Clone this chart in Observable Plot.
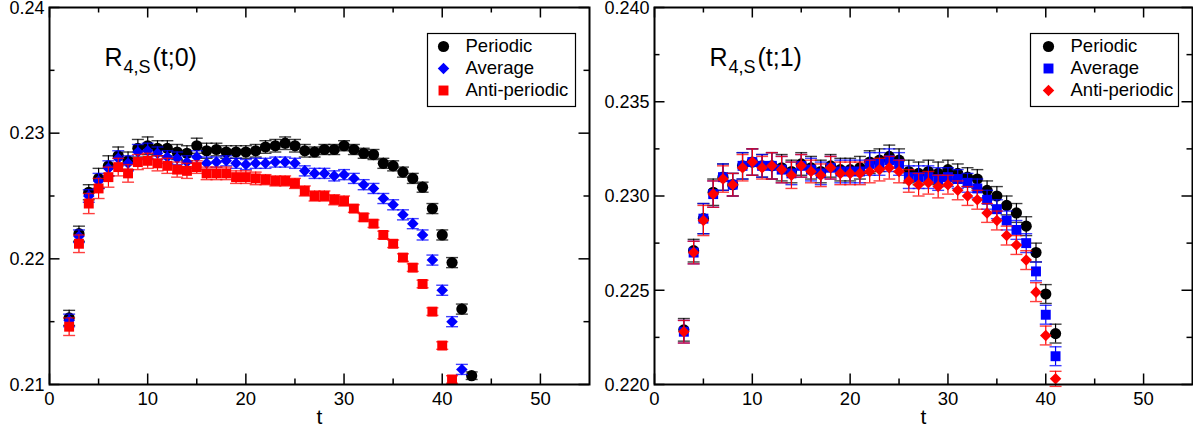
<!DOCTYPE html>
<html><head><meta charset="utf-8">
<script src="https://cdn.jsdelivr.net/npm/d3@7"></script>
<script src="https://cdn.jsdelivr.net/npm/@observablehq/plot@0.6"></script>
<style>
body{margin:0;background:#fff;}
#wrap{position:relative;width:1193px;height:429px;overflow:hidden;background:#fff;}
#wrap svg{position:absolute;top:0;}
</style></head><body><div id="wrap"></div>
<script>
// ---------- Left panel: R_{4,S}(t;0) ----------
const tLeftPer = [2,3,4,5,6,7,8,9,10,11,12,13,14,15,16,17,18,19,20,21,22,23,24,25,26,27,28,29,30,31,32,33,34,35,36,37,38,39,40,41,42,43];
const leftPer = [0.2153,0.2220,0.2253,0.2264,0.2274,0.2282,0.2278,0.2288,0.2290,0.2288,0.2288,0.2285,0.2284,0.2290,0.2286,0.2287,0.2285,0.2285,0.2285,0.2286,0.2289,0.2290,0.2292,0.2290,0.2286,0.2285,0.2287,0.2287,0.2290,0.2287,0.2284,0.2283,0.2276,0.2274,0.2269,0.2264,0.2257,0.2240,0.2219,0.2197,0.2160,0.2107];
const leftPerErr = [0.0006,0.0006,0.0006,0.0008,0.0008,0.0007,0.0007,0.0007,0.0007,0.0006,0.0006,0.0006,0.0006,0.0006,0.0006,0.0005,0.0005,0.0005,0.0005,0.0005,0.0005,0.0005,0.0005,0.0005,0.0005,0.0004,0.0004,0.0004,0.0004,0.0004,0.0004,0.0004,0.0004,0.0004,0.0004,0.0004,0.0004,0.0004,0.0004,0.0004,0.0004,0.0003];

const tLeftAvg = [2,3,4,5,6,7,8,9,10,11,12,13,14,15,16,17,18,19,20,21,22,23,24,25,26,27,28,29,30,31,32,33,34,35,36,37,38,39,40,41,42];
const leftAvg = [0.2151,0.2218,0.2250,0.2262,0.2272,0.2280,0.2276,0.2285,0.2286,0.2284,0.2281,0.2280,0.2277,0.2281,0.2276,0.2277,0.2278,0.2276,0.2275,0.2276,0.2276,0.2277,0.2277,0.2276,0.2270,0.2268,0.2268,0.2266,0.2267,0.2264,0.2259,0.2256,0.2248,0.2243,0.2235,0.2228,0.2219,0.2199,0.2175,0.2150,0.2112];
const leftAvgErr = [0.0005,0.0005,0.0005,0.0006,0.0006,0.0006,0.0006,0.0006,0.0006,0.0005,0.0005,0.0005,0.0005,0.0005,0.0005,0.0004,0.0004,0.0004,0.0004,0.0004,0.0004,0.0004,0.0004,0.0004,0.0004,0.0004,0.0004,0.0004,0.0004,0.0004,0.0004,0.0004,0.0004,0.0004,0.0004,0.0004,0.0004,0.0004,0.0004,0.0004,0.0004];

const tLeftAnti = [2,3,4,5,6,7,8,9,10,11,12,13,14,15,16,17,18,19,20,21,22,23,24,25,26,27,28,29,30,31,32,33,34,35,36,37,38,39,40,41];
const leftAnti = [0.2146,0.2212,0.2244,0.2256,0.2265,0.2273,0.2268,0.2277,0.2278,0.2276,0.2274,0.2271,0.2270,0.2273,0.2268,0.2268,0.2268,0.2265,0.2265,0.2264,0.2263,0.2262,0.2262,0.2260,0.2254,0.2250,0.2250,0.2247,0.2246,0.2240,0.2233,0.2228,0.2219,0.2212,0.2201,0.2193,0.2180,0.2158,0.2131,0.2104];
const leftAntiErr = [0.0007,0.0007,0.0008,0.0008,0.0008,0.0007,0.0007,0.0006,0.0006,0.0006,0.0006,0.0006,0.0006,0.0005,0.0005,0.0005,0.0005,0.0005,0.0005,0.0005,0.0004,0.0004,0.0004,0.0004,0.0004,0.0004,0.0004,0.0004,0.0004,0.0003,0.0003,0.0003,0.0003,0.0003,0.0003,0.0003,0.0003,0.0003,0.0003,0.0003];

// ---------- Right panel: R_{4,S}(t;1) ----------
const tRight = [3,4,5,6,7,8,9,10,11,12,13,14,15,16,17,18,19,20,21,22,23,24,25,26,27,28,29,30,31,32,33,34,35,36,37,38,39,40,41];
const rightPer = [0.2229,0.2271,0.2288,0.2302,0.2310,0.2306,0.2316,0.2318,0.2316,0.2316,0.2315,0.2313,0.2317,0.2315,0.2313,0.2316,0.2314,0.2314,0.2315,0.2318,0.2319,0.2321,0.2319,0.2313,0.2312,0.2313,0.2312,0.2314,0.2312,0.2310,0.2309,0.2303,0.2300,0.2295,0.2291,0.2284,0.2270,0.2248,0.2227];
const rightPerErr = [0.0006,0.0006,0.0008,0.0007,0.0007,0.0006,0.0007,0.0007,0.0006,0.0007,0.0007,0.0006,0.0006,0.0006,0.0006,0.0006,0.0006,0.0006,0.0006,0.0006,0.0006,0.0006,0.0006,0.0006,0.0006,0.0006,0.0006,0.0005,0.0005,0.0005,0.0005,0.0005,0.0005,0.0005,0.0005,0.0005,0.0005,0.0005,0.0005];
const rightAvg = [0.2228,0.2270,0.2288,0.2301,0.2310,0.2306,0.2316,0.2318,0.2316,0.2316,0.2314,0.2312,0.2316,0.2314,0.2312,0.2315,0.2313,0.2313,0.2313,0.2317,0.2317,0.2319,0.2317,0.2310,0.2310,0.2310,0.2309,0.2310,0.2309,0.2307,0.2304,0.2298,0.2293,0.2287,0.2282,0.2275,0.2260,0.2237,0.2215];
const rightAvgErr = [0.0006,0.0006,0.0008,0.0007,0.0007,0.0006,0.0007,0.0007,0.0006,0.0007,0.0007,0.0006,0.0006,0.0006,0.0006,0.0006,0.0006,0.0006,0.0006,0.0006,0.0006,0.0006,0.0006,0.0006,0.0006,0.0006,0.0006,0.0005,0.0005,0.0005,0.0005,0.0005,0.0005,0.0005,0.0005,0.0005,0.0005,0.0005,0.0005];
const rightAnti = [0.2228,0.2270,0.2287,0.2301,0.2309,0.2306,0.2315,0.2318,0.2315,0.2316,0.2314,0.2311,0.2316,0.2313,0.2311,0.2315,0.2312,0.2312,0.2312,0.2313,0.2314,0.2315,0.2313,0.2308,0.2306,0.2307,0.2305,0.2306,0.2303,0.2300,0.2298,0.2291,0.2287,0.2279,0.2274,0.2266,0.2249,0.2226,0.2203];
const rightAntiErr = [0.0006,0.0006,0.0008,0.0007,0.0007,0.0006,0.0007,0.0007,0.0006,0.0007,0.0007,0.0007,0.0006,0.0006,0.0006,0.0006,0.0006,0.0006,0.0006,0.0006,0.0006,0.0006,0.0006,0.0006,0.0006,0.0006,0.0006,0.0005,0.0005,0.0005,0.0005,0.0005,0.0005,0.0005,0.0005,0.0005,0.0005,0.0005,0.0004];

// ---------- Axes / labels ----------
const xMajor = [0,10,20,30,40,50];
const xMinor = [5,15,25,35,45];
const xDomain = [0,55];
const leftYDomain = [0.21,0.24];
const leftYMajor = [0.21,0.22,0.23,0.24];
const leftYMinor = [0.215,0.225,0.235];
const rightYDomain = [0.220,0.240];
const rightYMajor = [0.220,0.225,0.230,0.235,0.240];
const rightYMinor = [0.2225,0.2275,0.2325,0.2375];
const legendLabels = ["Periodic","Average","Anti-periodic"];
const seriesColors = ["#000000","#0000ff","#ff0000"];
const leftSymbols = ["circle","diamond2","square"];
const rightSymbols = ["circle","square","diamond2"];
const xLabel = "t";

const rows = (t, v, e) => t.map((ti, i) => ({t: ti, v: v[i], e: e[i]}));
const capSymbol = {draw(ctx) { ctx.moveTo(-6, 0); ctx.lineTo(6, 0); }};
const symR = {circle: 5.6, square: 5.6, diamond2: 5.2};
const FONT = "'Liberation Sans', Arial, Helvetica, sans-serif";

function seriesMarks(data, color, symbol) {
  return [
    Plot.ruleX(data, {x: "t", y1: d => d.v - d.e, y2: d => d.v + d.e, stroke: color, strokeWidth: 1.2}),
    Plot.dot(data, {x: "t", y: d => d.v + d.e, symbol: capSymbol, stroke: color, strokeWidth: 1.4, strokeOpacity: 0.75}),
    Plot.dot(data, {x: "t", y: d => d.v - d.e, symbol: capSymbol, stroke: color, strokeWidth: 1.4, strokeOpacity: 0.75}),
    Plot.dot(data, {x: "t", y: "v", symbol: symbol, r: symR[symbol], fill: color, stroke: "none"})
  ];
}

function panel({width, marginLeft, marginRight, yDomain, yMajor, yMinor, yFormat, series, symbols, sub, arg}) {
  const marginTop = 7, marginBottom = 45, height = 429;
  const H = height - marginTop - marginBottom;
  const W = width - marginLeft - marginRight;
  const marks = [];
  // ticks (inward, mirrored)
  marks.push(Plot.ruleX(xMajor, {x: d => d, insetTop: H - 10.5, stroke: "black", strokeWidth: 1.5}));
  marks.push(Plot.ruleX(xMajor, {x: d => d, insetBottom: H - 10.5, stroke: "black", strokeWidth: 1.5}));
  marks.push(Plot.ruleX(xMinor, {x: d => d, insetTop: H - 5.5, stroke: "black", strokeWidth: 1.5}));
  marks.push(Plot.ruleX(xMinor, {x: d => d, insetBottom: H - 5.5, stroke: "black", strokeWidth: 1.5}));
  marks.push(Plot.ruleY(yMajor, {y: d => d, insetRight: W - 10.5, stroke: "black", strokeWidth: 1.5}));
  marks.push(Plot.ruleY(yMajor, {y: d => d, insetLeft: W - 10.5, stroke: "black", strokeWidth: 1.5}));
  marks.push(Plot.ruleY(yMinor, {y: d => d, insetRight: W - 5.5, stroke: "black", strokeWidth: 1.5}));
  marks.push(Plot.ruleY(yMinor, {y: d => d, insetLeft: W - 5.5, stroke: "black", strokeWidth: 1.5}));
  marks.push(Plot.axisX({ticks: xMajor, tickSize: 0, tickPadding: 7, label: null, fontSize: 18.5, tickFormat: d3.format("d")}));
  marks.push(Plot.axisY({ticks: yMajor, tickSize: 0, tickPadding: 5, label: null, fontSize: 18, dy: 0.5, tickFormat: d3.format(yFormat)}));
  marks.push(Plot.text([xLabel], {frameAnchor: "bottom", dy: 33, fontSize: 21, lineAnchor: "middle"}));
  // data
  series.forEach((s, i) => marks.push(...seriesMarks(s, seriesColors[i], symbols[i])));
  // title
  marks.push(Plot.text(["R"], {frameAnchor: "top-left", dx: 55, dy: 50, fontSize: 25, textAnchor: "start", lineAnchor: "middle"}));
  marks.push(Plot.text([sub], {frameAnchor: "top-left", dx: 74, dy: 60, fontSize: 18, textAnchor: "start", lineAnchor: "middle"}));
  marks.push(Plot.text([arg], {frameAnchor: "top-left", dx: 103, dy: 50, fontSize: 25, textAnchor: "start", lineAnchor: "middle"}));
  // legend box
  marks.push(Plot.frame({insetLeft: W - 162, insetRight: 14, insetTop: 26, insetBottom: H - 99, fill: "white", stroke: "black", strokeWidth: 1.2}));
  legendLabels.forEach((lab, i) => {
    marks.push(Plot.dot([lab], {frameAnchor: "top-right", dx: -(W - 394), dy: 39 + 22 * i, symbol: symbols[i], r: symR[symbols[i]], fill: seriesColors[i], stroke: "none"}));
    marks.push(Plot.text([lab], {frameAnchor: "top-right", dx: -(W - 416), dy: 39 + 22 * i, fontSize: 18.5, textAnchor: "start", lineAnchor: "middle"}));
  });
  marks.push(Plot.frame({stroke: "black", strokeWidth: 2}));
  return Plot.plot({
    width, height, marginLeft, marginRight, marginTop, marginBottom,
    x: {domain: xDomain},
    y: {domain: yDomain},
    style: {fontFamily: FONT, fontSize: "19px", background: "white", color: "black", overflow: "visible"},
    marks
  });
}

const left = panel({
  width: 595, marginLeft: 49, marginRight: 6,
  yDomain: leftYDomain, yMajor: leftYMajor, yMinor: leftYMinor, yFormat: ".2f",
  series: [rows(tLeftPer, leftPer, leftPerErr), rows(tLeftAvg, leftAvg, leftAvgErr), rows(tLeftAnti, leftAnti, leftAntiErr)],
  symbols: leftSymbols, sub: "4,S", arg: "(t;0)"
});
const right = panel({
  width: 598, marginLeft: 59, marginRight: 1,
  yDomain: rightYDomain, yMajor: rightYMajor, yMinor: rightYMinor, yFormat: ".3f",
  series: [rows(tRight, rightPer, rightPerErr), rows(tRight, rightAvg, rightAvgErr), rows(tRight, rightAnti, rightAntiErr)],
  symbols: rightSymbols, sub: "4,S", arg: "(t;1)"
});
left.style.left = "0px";
right.style.left = "595px";
const wrap = document.getElementById("wrap");
wrap.appendChild(left);
wrap.appendChild(right);
</script>
</body></html>
